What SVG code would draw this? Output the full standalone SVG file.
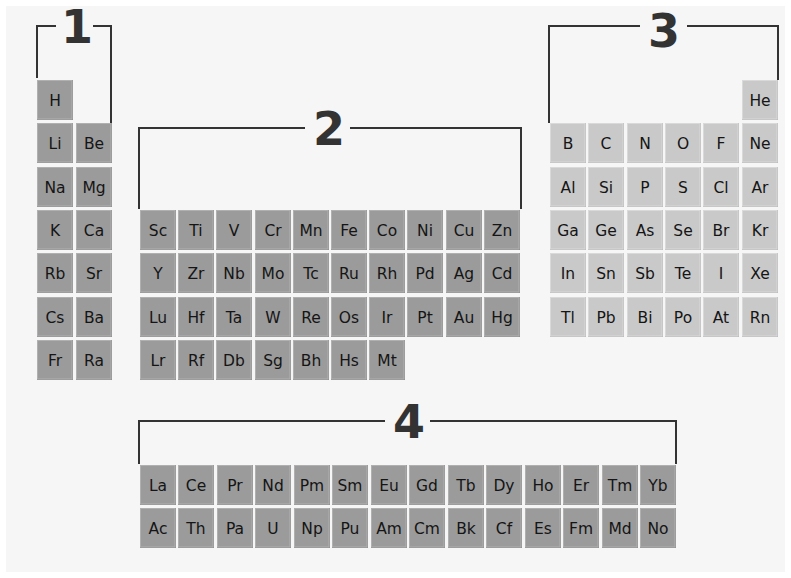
<svg xmlns="http://www.w3.org/2000/svg" xmlns:xlink="http://www.w3.org/1999/xlink" width="791" height="578" viewBox="0 0 791 578">
<style>
text.e{font-family:"DejaVu Sans","Verdana",sans-serif;font-size:15.5px;fill:#151515;text-anchor:middle}
text.n{font-family:"DejaVu Sans","Verdana",sans-serif;font-size:46px;font-weight:bold;fill:#333;text-anchor:middle}
.br{fill:none;stroke:#333;stroke-width:2}
</style>
<defs>
<g id="td"><rect x="0" y="0" width="36" height="40" fill="#8a8a8a"/><rect x="0.5" y="0.5" width="34.5" height="38.5" fill="#9b9b9b" stroke="#b0b0b0"/></g>
<g id="tl"><rect x="0" y="0" width="36" height="40" fill="#b4b4b4"/><rect x="0.5" y="0.5" width="34.5" height="38.5" fill="#c9c9c9" stroke="#d9d9d9"/></g>
</defs>
<rect width="791" height="578" fill="#ffffff"/>
<rect x="6" y="6" width="779" height="566" fill="#f6f6f6"/>
<g id="connectors">
<path class="br" d="M37,78 V26 H56 M93,26 H111 V123"/>
<path class="br" d="M139,209 V128 H305 M350,128 H521 V209"/>
<path class="br" d="M549,123 V26 H640 M687,26 H778 V80"/>
<path class="br" d="M139,464 V421 H385 M430,421 H676 V464"/>
</g>
<g id="label-1"><text class="n" x="77" y="43">1</text></g>
<g id="label-2"><text class="n" x="329" y="145">2</text></g>
<g id="label-3"><text class="n" x="664" y="47">3</text></g>
<g id="label-4"><text class="n" x="409" y="438">4</text></g>
<g id="block1">
<g id="H" transform="translate(37,80)"><use href="#td"/><text class="e" x="18" y="26">H</text></g>
<g id="Li" transform="translate(37,123)"><use href="#td"/><text class="e" x="18" y="26">Li</text></g>
<g id="Be" transform="translate(76,123)"><use href="#td"/><text class="e" x="18" y="26">Be</text></g>
<g id="Na" transform="translate(37,167)"><use href="#td"/><text class="e" x="18" y="26">Na</text></g>
<g id="Mg" transform="translate(76,167)"><use href="#td"/><text class="e" x="18" y="26">Mg</text></g>
<g id="K" transform="translate(37,210)"><use href="#td"/><text class="e" x="18" y="26">K</text></g>
<g id="Ca" transform="translate(76,210)"><use href="#td"/><text class="e" x="18" y="26">Ca</text></g>
<g id="Rb" transform="translate(37,253)"><use href="#td"/><text class="e" x="18" y="26">Rb</text></g>
<g id="Sr" transform="translate(76,253)"><use href="#td"/><text class="e" x="18" y="26">Sr</text></g>
<g id="Cs" transform="translate(37,297)"><use href="#td"/><text class="e" x="18" y="26">Cs</text></g>
<g id="Ba" transform="translate(76,297)"><use href="#td"/><text class="e" x="18" y="26">Ba</text></g>
<g id="Fr" transform="translate(37,340)"><use href="#td"/><text class="e" x="18" y="26">Fr</text></g>
<g id="Ra" transform="translate(76,340)"><use href="#td"/><text class="e" x="18" y="26">Ra</text></g>
</g>
<g id="block2">
<g id="Sc" transform="translate(140,210)"><use href="#td"/><text class="e" x="18" y="26">Sc</text></g>
<g id="Ti" transform="translate(178,210)"><use href="#td"/><text class="e" x="18" y="26">Ti</text></g>
<g id="V" transform="translate(216,210)"><use href="#td"/><text class="e" x="18" y="26">V</text></g>
<g id="Cr" transform="translate(255,210)"><use href="#td"/><text class="e" x="18" y="26">Cr</text></g>
<g id="Mn" transform="translate(293,210)"><use href="#td"/><text class="e" x="18" y="26">Mn</text></g>
<g id="Fe" transform="translate(331,210)"><use href="#td"/><text class="e" x="18" y="26">Fe</text></g>
<g id="Co" transform="translate(369,210)"><use href="#td"/><text class="e" x="18" y="26">Co</text></g>
<g id="Ni" transform="translate(407,210)"><use href="#td"/><text class="e" x="18" y="26">Ni</text></g>
<g id="Cu" transform="translate(446,210)"><use href="#td"/><text class="e" x="18" y="26">Cu</text></g>
<g id="Zn" transform="translate(484,210)"><use href="#td"/><text class="e" x="18" y="26">Zn</text></g>
<g id="Y" transform="translate(140,253)"><use href="#td"/><text class="e" x="18" y="26">Y</text></g>
<g id="Zr" transform="translate(178,253)"><use href="#td"/><text class="e" x="18" y="26">Zr</text></g>
<g id="Nb" transform="translate(216,253)"><use href="#td"/><text class="e" x="18" y="26">Nb</text></g>
<g id="Mo" transform="translate(255,253)"><use href="#td"/><text class="e" x="18" y="26">Mo</text></g>
<g id="Tc" transform="translate(293,253)"><use href="#td"/><text class="e" x="18" y="26">Tc</text></g>
<g id="Ru" transform="translate(331,253)"><use href="#td"/><text class="e" x="18" y="26">Ru</text></g>
<g id="Rh" transform="translate(369,253)"><use href="#td"/><text class="e" x="18" y="26">Rh</text></g>
<g id="Pd" transform="translate(407,253)"><use href="#td"/><text class="e" x="18" y="26">Pd</text></g>
<g id="Ag" transform="translate(446,253)"><use href="#td"/><text class="e" x="18" y="26">Ag</text></g>
<g id="Cd" transform="translate(484,253)"><use href="#td"/><text class="e" x="18" y="26">Cd</text></g>
<g id="Lu" transform="translate(140,297)"><use href="#td"/><text class="e" x="18" y="26">Lu</text></g>
<g id="Hf" transform="translate(178,297)"><use href="#td"/><text class="e" x="18" y="26">Hf</text></g>
<g id="Ta" transform="translate(216,297)"><use href="#td"/><text class="e" x="18" y="26">Ta</text></g>
<g id="W" transform="translate(255,297)"><use href="#td"/><text class="e" x="18" y="26">W</text></g>
<g id="Re" transform="translate(293,297)"><use href="#td"/><text class="e" x="18" y="26">Re</text></g>
<g id="Os" transform="translate(331,297)"><use href="#td"/><text class="e" x="18" y="26">Os</text></g>
<g id="Ir" transform="translate(369,297)"><use href="#td"/><text class="e" x="18" y="26">Ir</text></g>
<g id="Pt" transform="translate(407,297)"><use href="#td"/><text class="e" x="18" y="26">Pt</text></g>
<g id="Au" transform="translate(446,297)"><use href="#td"/><text class="e" x="18" y="26">Au</text></g>
<g id="Hg" transform="translate(484,297)"><use href="#td"/><text class="e" x="18" y="26">Hg</text></g>
<g id="Lr" transform="translate(140,340)"><use href="#td"/><text class="e" x="18" y="26">Lr</text></g>
<g id="Rf" transform="translate(178,340)"><use href="#td"/><text class="e" x="18" y="26">Rf</text></g>
<g id="Db" transform="translate(216,340)"><use href="#td"/><text class="e" x="18" y="26">Db</text></g>
<g id="Sg" transform="translate(255,340)"><use href="#td"/><text class="e" x="18" y="26">Sg</text></g>
<g id="Bh" transform="translate(293,340)"><use href="#td"/><text class="e" x="18" y="26">Bh</text></g>
<g id="Hs" transform="translate(331,340)"><use href="#td"/><text class="e" x="18" y="26">Hs</text></g>
<g id="Mt" transform="translate(369,340)"><use href="#td"/><text class="e" x="18" y="26">Mt</text></g>
</g>
<g id="block3">
<g id="He" transform="translate(742,80)"><use href="#tl"/><text class="e" x="18" y="26">He</text></g>
<g id="B" transform="translate(550,123)"><use href="#tl"/><text class="e" x="18" y="26">B</text></g>
<g id="C" transform="translate(588,123)"><use href="#tl"/><text class="e" x="18" y="26">C</text></g>
<g id="N" transform="translate(627,123)"><use href="#tl"/><text class="e" x="18" y="26">N</text></g>
<g id="O" transform="translate(665,123)"><use href="#tl"/><text class="e" x="18" y="26">O</text></g>
<g id="F" transform="translate(703,123)"><use href="#tl"/><text class="e" x="18" y="26">F</text></g>
<g id="Ne" transform="translate(742,123)"><use href="#tl"/><text class="e" x="18" y="26">Ne</text></g>
<g id="Al" transform="translate(550,167)"><use href="#tl"/><text class="e" x="18" y="26">Al</text></g>
<g id="Si" transform="translate(588,167)"><use href="#tl"/><text class="e" x="18" y="26">Si</text></g>
<g id="P" transform="translate(627,167)"><use href="#tl"/><text class="e" x="18" y="26">P</text></g>
<g id="S" transform="translate(665,167)"><use href="#tl"/><text class="e" x="18" y="26">S</text></g>
<g id="Cl" transform="translate(703,167)"><use href="#tl"/><text class="e" x="18" y="26">Cl</text></g>
<g id="Ar" transform="translate(742,167)"><use href="#tl"/><text class="e" x="18" y="26">Ar</text></g>
<g id="Ga" transform="translate(550,210)"><use href="#tl"/><text class="e" x="18" y="26">Ga</text></g>
<g id="Ge" transform="translate(588,210)"><use href="#tl"/><text class="e" x="18" y="26">Ge</text></g>
<g id="As" transform="translate(627,210)"><use href="#tl"/><text class="e" x="18" y="26">As</text></g>
<g id="Se" transform="translate(665,210)"><use href="#tl"/><text class="e" x="18" y="26">Se</text></g>
<g id="Br" transform="translate(703,210)"><use href="#tl"/><text class="e" x="18" y="26">Br</text></g>
<g id="Kr" transform="translate(742,210)"><use href="#tl"/><text class="e" x="18" y="26">Kr</text></g>
<g id="In" transform="translate(550,253)"><use href="#tl"/><text class="e" x="18" y="26">In</text></g>
<g id="Sn" transform="translate(588,253)"><use href="#tl"/><text class="e" x="18" y="26">Sn</text></g>
<g id="Sb" transform="translate(627,253)"><use href="#tl"/><text class="e" x="18" y="26">Sb</text></g>
<g id="Te" transform="translate(665,253)"><use href="#tl"/><text class="e" x="18" y="26">Te</text></g>
<g id="I" transform="translate(703,253)"><use href="#tl"/><text class="e" x="18" y="26">I</text></g>
<g id="Xe" transform="translate(742,253)"><use href="#tl"/><text class="e" x="18" y="26">Xe</text></g>
<g id="Tl" transform="translate(550,297)"><use href="#tl"/><text class="e" x="18" y="26">Tl</text></g>
<g id="Pb" transform="translate(588,297)"><use href="#tl"/><text class="e" x="18" y="26">Pb</text></g>
<g id="Bi" transform="translate(627,297)"><use href="#tl"/><text class="e" x="18" y="26">Bi</text></g>
<g id="Po" transform="translate(665,297)"><use href="#tl"/><text class="e" x="18" y="26">Po</text></g>
<g id="At" transform="translate(703,297)"><use href="#tl"/><text class="e" x="18" y="26">At</text></g>
<g id="Rn" transform="translate(742,297)"><use href="#tl"/><text class="e" x="18" y="26">Rn</text></g>
</g>
<g id="block4">
<g id="La" transform="translate(140,465)"><use href="#td"/><text class="e" x="18" y="26">La</text></g>
<g id="Ce" transform="translate(178,465)"><use href="#td"/><text class="e" x="18" y="26">Ce</text></g>
<g id="Pr" transform="translate(217,465)"><use href="#td"/><text class="e" x="18" y="26">Pr</text></g>
<g id="Nd" transform="translate(255,465)"><use href="#td"/><text class="e" x="18" y="26">Nd</text></g>
<g id="Pm" transform="translate(294,465)"><use href="#td"/><text class="e" x="18" y="26">Pm</text></g>
<g id="Sm" transform="translate(332,465)"><use href="#td"/><text class="e" x="18" y="26">Sm</text></g>
<g id="Eu" transform="translate(371,465)"><use href="#td"/><text class="e" x="18" y="26">Eu</text></g>
<g id="Gd" transform="translate(409,465)"><use href="#td"/><text class="e" x="18" y="26">Gd</text></g>
<g id="Tb" transform="translate(448,465)"><use href="#td"/><text class="e" x="18" y="26">Tb</text></g>
<g id="Dy" transform="translate(486,465)"><use href="#td"/><text class="e" x="18" y="26">Dy</text></g>
<g id="Ho" transform="translate(525,465)"><use href="#td"/><text class="e" x="18" y="26">Ho</text></g>
<g id="Er" transform="translate(563,465)"><use href="#td"/><text class="e" x="18" y="26">Er</text></g>
<g id="Tm" transform="translate(602,465)"><use href="#td"/><text class="e" x="18" y="26">Tm</text></g>
<g id="Yb" transform="translate(640,465)"><use href="#td"/><text class="e" x="18" y="26">Yb</text></g>
<g id="Ac" transform="translate(140,508)"><use href="#td"/><text class="e" x="18" y="26">Ac</text></g>
<g id="Th" transform="translate(178,508)"><use href="#td"/><text class="e" x="18" y="26">Th</text></g>
<g id="Pa" transform="translate(217,508)"><use href="#td"/><text class="e" x="18" y="26">Pa</text></g>
<g id="U" transform="translate(255,508)"><use href="#td"/><text class="e" x="18" y="26">U</text></g>
<g id="Np" transform="translate(294,508)"><use href="#td"/><text class="e" x="18" y="26">Np</text></g>
<g id="Pu" transform="translate(332,508)"><use href="#td"/><text class="e" x="18" y="26">Pu</text></g>
<g id="Am" transform="translate(371,508)"><use href="#td"/><text class="e" x="18" y="26">Am</text></g>
<g id="Cm" transform="translate(409,508)"><use href="#td"/><text class="e" x="18" y="26">Cm</text></g>
<g id="Bk" transform="translate(448,508)"><use href="#td"/><text class="e" x="18" y="26">Bk</text></g>
<g id="Cf" transform="translate(486,508)"><use href="#td"/><text class="e" x="18" y="26">Cf</text></g>
<g id="Es" transform="translate(525,508)"><use href="#td"/><text class="e" x="18" y="26">Es</text></g>
<g id="Fm" transform="translate(563,508)"><use href="#td"/><text class="e" x="18" y="26">Fm</text></g>
<g id="Md" transform="translate(602,508)"><use href="#td"/><text class="e" x="18" y="26">Md</text></g>
<g id="No" transform="translate(640,508)"><use href="#td"/><text class="e" x="18" y="26">No</text></g>
</g>
</svg>
